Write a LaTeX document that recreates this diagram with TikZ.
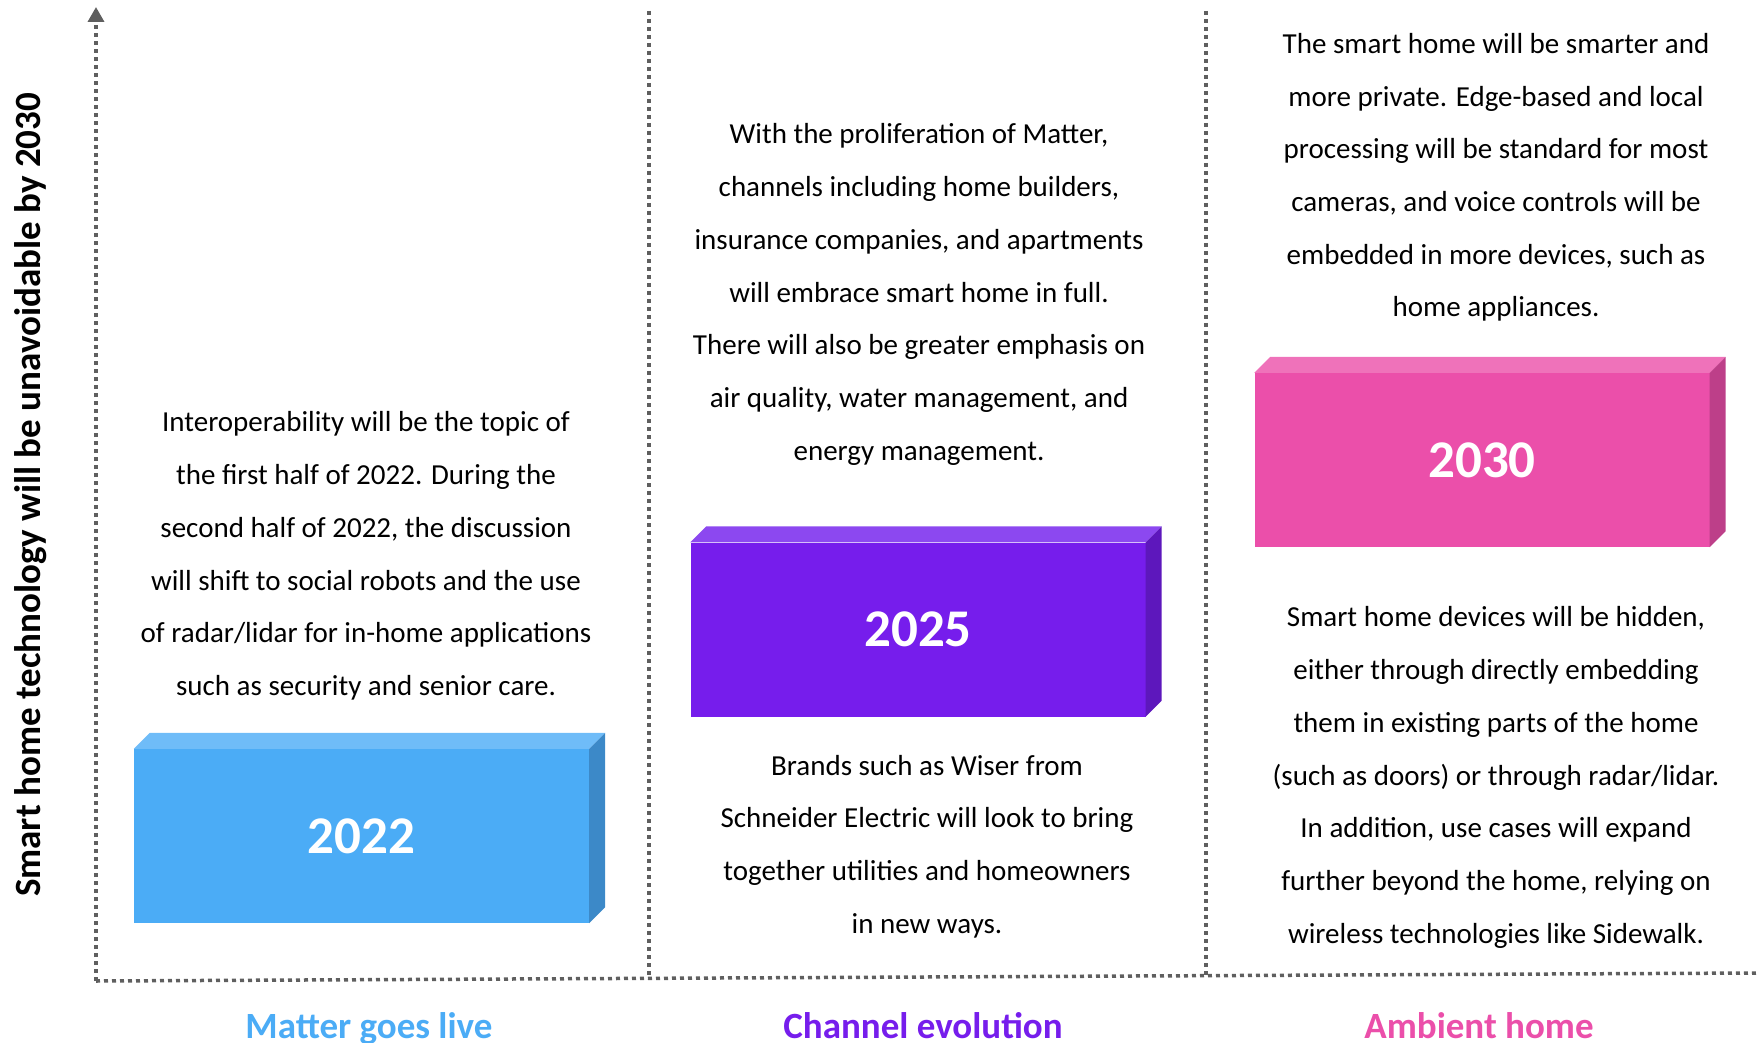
\documentclass[tikz,border=0pt]{standalone}
\usepackage{fontspec}
\setmainfont{Carlito}
\usetikzlibrary{arrows.meta}
\definecolor{axisgray}{HTML}{5F5F5F}
\definecolor{blueF}{HTML}{4BACF6}
\definecolor{blueT}{HTML}{6FBCF8}
\definecolor{blueS}{HTML}{3C89C8}
\definecolor{purpF}{HTML}{761DEC}
\definecolor{purpT}{HTML}{8C48F0}
\definecolor{purpS}{HTML}{5D17BC}
\definecolor{pinkF}{HTML}{EB4FAA}
\definecolor{pinkT}{HTML}{EF72BA}
\definecolor{pinkS}{HTML}{BD3F89}
\tikzset{
  axisline/.style={draw=axisgray, line width=3.5pt, dash pattern=on 4pt off 4pt},
  yearbox/.style={inner sep=0pt, minimum width=455pt, minimum height=174pt,
    text=white, font=\bfseries\fontsize{53}{53}\selectfont},
  bodytext/.style={align=center, inner sep=0pt, font=\fontsize{29}{52.7}\selectfont},
  phase/.style={anchor=base, font=\bfseries\fontsize{37}{37}\selectfont},
}
\newcommand{\boxsides}[3]{%
  \fill[#2] (#1.north west) -- ++(16,-16) -- ([shift={(16,-16)}]#1.north east) -- (#1.north east) -- cycle;
  \fill[#3] (#1.north east) -- ++(16,-16) -- ([shift={(16,-16)}]#1.south east) -- (#1.south east) -- cycle;
}
\begin{document}
\begin{tikzpicture}[x=1pt,y=-1pt]
\useasboundingbox (0,0) rectangle (1757,1043);
% axes
\coordinate (orig) at (96,981);
\coordinate (ytop) at (96,7);
\coordinate (xend) at (1757,973);
\coordinate (d1t) at (649,11);
\coordinate (d1b) at (649,979);
\coordinate (d2t) at (1206,11);
\coordinate (d2b) at (1206,975);
\draw[axisline, -{Triangle[length=15pt,width=16pt]}] (orig) -- (ytop);
\draw[axisline] (orig) -- (xend);
\draw[axisline] (d1t) -- (d1b);
\draw[axisline] (d2t) -- (d2b);
% y label
\node[rotate=90, font=\bfseries\fontsize{37}{37}\selectfont] (ylab) at (31,495) {Smart home technology will be unavoidable by 2030};
% boxes
\node[yearbox, fill=blueF] (b22) at (361.5,836) {2022};
\boxsides{b22}{blueT}{blueS}
\node[yearbox, fill=purpF] (b25) at (918,629.5) {2025};
\boxsides{b25}{purpT}{purpS}
\node[yearbox, fill=pinkF] (b30) at (1482,460) {2030};
\boxsides{b30}{pinkT}{pinkS}
% texts
\node[bodytext] (t22) at (366,556) {Interoperability will be the topic of\\the first half of 2022. During the\\second half of 2022, the discussion\\will shift to social robots and the use\\of radar/lidar for in-home applications\\such as security and senior care.};
\node[bodytext] (t25a) at (919,294.5) {With the proliferation of Matter,\\channels including home builders,\\insurance companies, and apartments\\will embrace smart home in full.\\There will also be greater emphasis on\\air quality, water management, and\\energy management.};
\node[bodytext] (t25b) at (927,846.5) {Brands such as Wiser from\\Schneider Electric will look to bring\\together utilities and homeowners\\in new ways.};
\node[bodytext] (t30a) at (1496,177.5) {The smart home will be smarter and\\more private. Edge-based and local\\processing will be standard for most\\cameras, and voice controls will be\\embedded in more devices, such as\\home appliances.};
\node[bodytext] (t30b) at (1496,777.5) {Smart home devices will be hidden,\\either through directly embedding\\them in existing parts of the home\\(such as doors) or through radar/lidar.\\In addition, use cases will expand\\further beyond the home, relying on\\wireless technologies like Sidewalk.};
% phase labels
\node[phase, text=blueF] (p1) at (369,1038) {Matter goes live};
\node[phase, text=purpF] (p2) at (923,1038) {Channel evolution};
\node[phase, text=pinkF] (p3) at (1479,1038) {Ambient home};
\end{tikzpicture}
\end{document}
